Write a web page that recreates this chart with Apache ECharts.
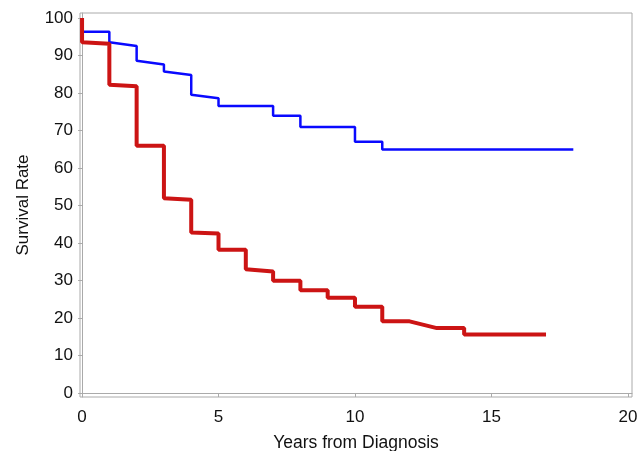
<!DOCTYPE html>
<html>
<head>
<meta charset="utf-8">
<script src="https://cdn.jsdelivr.net/npm/echarts@6/dist/echarts.min.js"></script>
<style>
  html, body { margin: 0; padding: 0; background: #fff; }
  #chart { width: 639px; height: 451px; }
</style>
</head>
<body>
<div id="chart"></div>
<script>
// survival curves (years, survival %)
var blueYears = [0, 1, 1, 2, 2, 3, 3, 4, 4, 5, 5, 7, 7, 8, 8, 10, 10, 11, 11, 18]
var blueSurv = [96.3, 96.3, 93.5, 92.5, 88.6, 87.6, 85.7, 84.8, 79.5, 78.6, 76.5, 76.5, 73.9, 73.9, 70.9, 70.9, 67.0, 67.0, 64.9, 64.9]

var redYears = [0, 0, 1, 1, 2, 2, 3, 3, 4, 4, 5, 5, 6, 6, 7, 7, 8, 8, 9, 9, 10, 10, 11, 11, 12, 13, 14, 14, 17]
var redSurv = [100, 93.5, 93.1, 82.2, 81.8, 65.9, 65.9, 51.9, 51.5, 42.8, 42.5, 38.2, 38.2, 33.0, 32.4, 29.9, 29.9, 27.4, 27.4, 25.4, 25.4, 23.0, 23.0, 19.1, 19.1, 17.3, 17.3, 15.6, 15.6]

var xTicks = [0, 5, 10, 15, 20]
var yTicks = [0, 10, 20, 30, 40, 50, 60, 70, 80, 90, 100]

function pairs(xs, ys) {
  var out = []
  for (var i = 0; i < xs.length; i++) out.push([xs[i], ys[i]])
  return out
}

var myChart = echarts.init(document.getElementById('chart'))
var font = 'Liberation Sans, Arial, sans-serif'
myChart.setOption({
  animation: false,
  grid: {
    left: 80,
    right: 7,
    top: 13,
    bottom: 54,
    containLabel: false,
    outerBoundsMode: 'none', // keep plot box fixed, name may run off the bottom like the original
    show: true,
    borderColor: '#aaaaaa',
    borderWidth: 1,
  },
  xAxis: {
    type: 'value',
    min: -0.075,
    max: 20.15,
    name: 'Years from Diagnosis',
    nameLocation: 'middle',
    nameGap: 37,
    nameTextStyle: { fontFamily: font, fontSize: 17.5, color: '#111' },
    axisLine: { show: true, lineStyle: { color: '#aaaaaa' } },
    axisTick: { show: true, length: 4, customValues: xTicks, lineStyle: { color: '#aaaaaa' } },
    axisLabel: { customValues: xTicks, margin: 12, fontFamily: font, fontSize: 17, color: '#111' },
    splitLine: { show: false },
  },
  yAxis: {
    type: 'value',
    min: -1.07,
    max: 101.33,
    name: 'Survival Rate',
    nameLocation: 'middle',
    nameGap: 48,
    nameTextStyle: { fontFamily: font, fontSize: 17, color: '#111' },
    axisLine: { show: true, lineStyle: { color: '#aaaaaa' } },
    axisTick: { show: true, length: 4, customValues: yTicks, lineStyle: { color: '#aaaaaa' } },
    axisLabel: { customValues: yTicks, margin: 7, fontFamily: font, fontSize: 17, color: '#111' },
    splitLine: { show: false },
  },
  series: [
    {
      name: 'blue',
      type: 'line',
      data: pairs(blueYears, blueSurv),
      showSymbol: false,
      lineStyle: { color: '#0a0aff', width: 2.5 },
      z: 2,
    },
    {
      name: 'red',
      type: 'line',
      data: pairs(redYears, redSurv),
      showSymbol: false,
      lineStyle: { color: '#cc1414', width: 4 },
      z: 3,
    },
  ],
})
</script>
</body>
</html>
